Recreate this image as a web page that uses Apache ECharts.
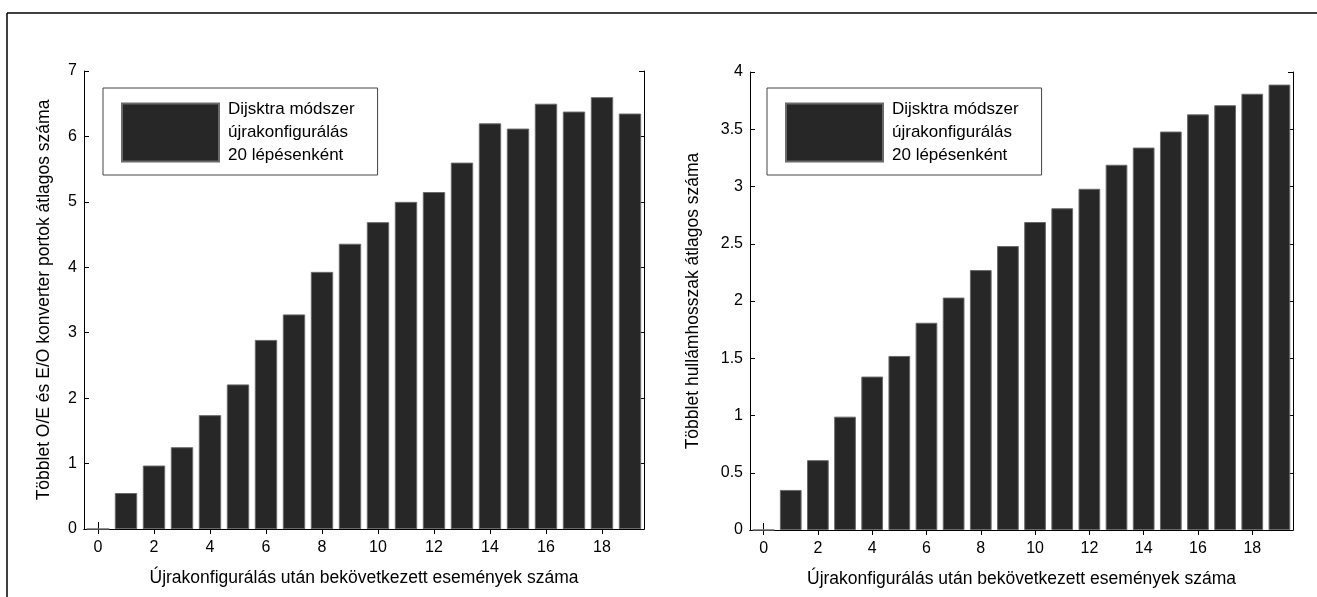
<!DOCTYPE html>
<html>
<head>
<meta charset="utf-8">
<script src="https://cdn.jsdelivr.net/npm/echarts@6/dist/echarts.min.js"></script>
<style>
html,body{margin:0;padding:0;background:#fff;}
#c{width:1317px;height:597px;}
</style>
</head>
<body>
<div id="c"></div>
<script>
var categories = ['0','1','2','3','4','5','6','7','8','9','10','11','12','13','14','15','16','17','18','19'];
var portValues = [0, 0.55, 0.97, 1.25, 1.74, 2.21, 2.89, 3.28, 3.93, 4.36, 4.69, 5.0, 5.15, 5.6, 6.2, 6.12, 6.5, 6.38, 6.6, 6.35];
var waveValues = [0, 0.35, 0.61, 0.99, 1.34, 1.52, 1.81, 2.03, 2.27, 2.48, 2.69, 2.81, 2.98, 3.19, 3.34, 3.48, 3.63, 3.71, 3.81, 3.89];
var seriesName = 'Dijsktra módszer\nújrakonfigurálás\n20 lépésenként';
var xAxisTitle = 'Újrakonfigurálás után bekövetkezett események száma';
var yTitleLeft = 'Többlet O/E és E/O konverter portok átlagos száma';
var yTitleRight = 'Többlet hullámhosszak átlagos száma';

var FONT = 'Liberation Sans, Arial, sans-serif';
var lineStyle = {color:'#000', width:1};

function xAxes(gi){
  return [{
    gridIndex: gi, type:'category', data: categories, position:'bottom',
    boundaryGap: true,
    axisLine:{show:true, lineStyle: lineStyle},
    axisTick:{show:true, inside:true, length:7, interval:1, alignWithLabel:true, lineStyle: lineStyle},
    axisLabel:{interval:1, margin:11, color:'#000', fontSize:16, fontFamily:FONT},
    name: xAxisTitle, nameLocation:'middle', nameGap:40,
    nameTextStyle:{color:'#000', fontSize:17.5, fontFamily:FONT},
    splitLine:{show:false}
  },{
    gridIndex: gi, type:'category', data: categories, position:'top',
    boundaryGap: true,
    axisLine:{show:true, lineStyle: lineStyle},
    axisTick:{show:true, inside:true, length:5, interval:1, alignWithLabel:true, lineStyle: lineStyle},
    axisLabel:{show:false},
    splitLine:{show:false}
  }];
}
function yAxes(gi, max, interval, name, gap){
  return [{
    gridIndex: gi, type:'value', min:0, max:max, interval:interval, position:'left',
    axisLine:{show:true, lineStyle: lineStyle},
    axisTick:{show:true, inside:true, length:5, lineStyle: lineStyle},
    axisLabel:{margin:7, color:'#000', fontSize:16, fontFamily:FONT},
    name: name, nameLocation:'middle', nameGap:gap,
    nameTextStyle:{color:'#000', fontSize:17.5, fontFamily:FONT},
    splitLine:{show:false}
  },{
    gridIndex: gi, type:'value', min:0, max:max, interval:interval, position:'right',
    axisLine:{show:true, lineStyle: lineStyle},
    axisTick:{show:true, inside:true, length:5, lineStyle: lineStyle},
    axisLabel:{show:false},
    splitLine:{show:false}
  }];
}
var barStyle = {color:'#272727', borderColor:'#6a6a6a', borderWidth:1};
var legendText = {color:'#000', fontSize:17, lineHeight:23, fontFamily:FONT, padding:[0,0,0,4]};

var option = {
  animation:false,
  backgroundColor:'#fff',
  grid:[
    {left:84, top:71, width:560, height:458},
    {left:750, top:72, width:543, height:458}
  ],
  xAxis: xAxes(0).concat(xAxes(1)),
  yAxis: yAxes(0, 7, 1, yTitleLeft, 31).concat(yAxes(1, 4, 0.5, yTitleRight, 48)),
  legend:[
    {left:103, top:88, orient:'vertical', itemWidth:97, itemHeight:58, padding:[10,23,8,18],
     borderColor:'#444', borderWidth:1, backgroundColor:'#fff', icon:'rect',
     textStyle:legendText, data:[seriesName]},
    {left:767, top:88, orient:'vertical', itemWidth:97, itemHeight:58, padding:[10,23,8,18],
     borderColor:'#444', borderWidth:1, backgroundColor:'#fff', icon:'rect',
     textStyle:legendText, data:[seriesName]}
  ],
  graphic:[
    {type:'line', shape:{x1:7, y1:13, x2:1317, y2:13}, style:{stroke:'#000', lineWidth:1.5}},
    {type:'line', shape:{x1:7, y1:13, x2:7, y2:597}, style:{stroke:'#000', lineWidth:1.5}}
  ],
  series:[
    {type:'bar', name:seriesName, xAxisIndex:0, yAxisIndex:0, data:portValues, barWidth:'80%', itemStyle:barStyle},
    {type:'bar', name:seriesName, xAxisIndex:2, yAxisIndex:2, data:waveValues, barWidth:'80%', itemStyle:barStyle}
  ]
};
var chart = echarts.init(document.getElementById('c'), null, {renderer:'canvas'});
chart.setOption(option);
</script>
</body>
</html>
